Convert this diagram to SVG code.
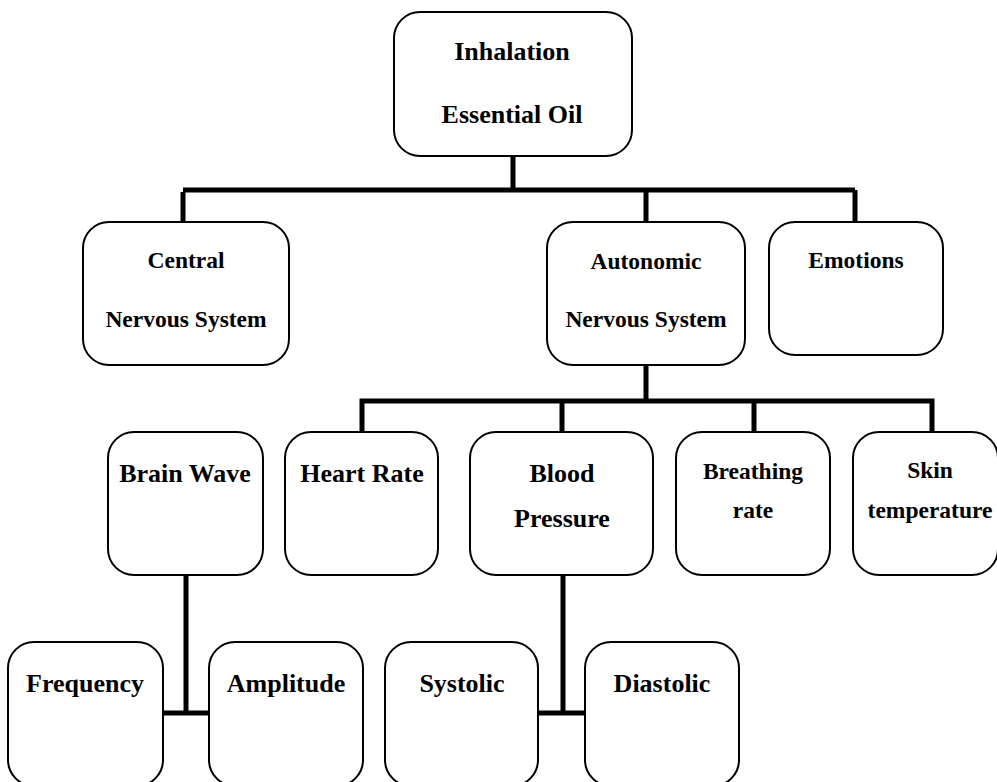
<svg xmlns="http://www.w3.org/2000/svg" width="997" height="782" viewBox="0 0 997 782">
<style>
.box{fill:#fff;stroke:#000;stroke-width:2}
.t{font-family:"Liberation Serif","Times New Roman",serif;font-weight:bold;text-anchor:middle;fill:#000}
.l{font-size:26px}
.s{font-size:23.5px}
.c{fill:none;stroke:#000;stroke-width:5}
</style>
<rect width="997" height="782" fill="#fff"/>
<g id="connectors">
<path class="c" d="M513 156V190M183 192V222M183 190H855M646 190V222M855 190V222"/>
<path class="c" d="M646 365V401M362 432V401H932V432M562 401V432M754 401V432"/>
<path class="c" d="M186 575V713M163 713H209"/>
<path class="c" d="M563 575V713M538 713H585"/>
</g>
<g id="inhalation"><rect class="box" x="394" y="12" width="238" height="144" rx="26"/><text class="t l" x="512" y="60">Inhalation</text><text class="t l" x="512" y="123">Essential Oil</text></g>
<g id="cns"><rect class="box" x="83" y="222" width="206" height="143" rx="26"/><text class="t s" x="186" y="268">Central</text><text class="t s" x="186" y="327">Nervous System</text></g>
<g id="ans"><rect class="box" x="547" y="222" width="198" height="143" rx="26"/><text class="t s" x="646" y="269">Autonomic</text><text class="t s" x="646" y="327">Nervous System</text></g>
<g id="emotions"><rect class="box" x="769" y="222" width="174" height="133" rx="26"/><text class="t s" x="856" y="268">Emotions</text></g>
<g id="brainwave"><rect class="box" x="108" y="432" width="155" height="143" rx="26"/><text class="t l" x="185" y="482">Brain Wave</text></g>
<g id="heartrate"><rect class="box" x="285" y="432" width="153" height="143" rx="26"/><text class="t l" x="362" y="482">Heart Rate</text></g>
<g id="bloodpressure"><rect class="box" x="470" y="432" width="183" height="143" rx="26"/><text class="t l" x="562" y="482">Blood</text><text class="t l" x="562" y="527">Pressure</text></g>
<g id="breathing"><rect class="box" x="676" y="432" width="154" height="143" rx="26"/><text class="t s" x="753" y="479">Breathing</text><text class="t s" x="753" y="518">rate</text></g>
<g id="skin"><rect class="box" x="853" y="432" width="145" height="143" rx="26"/><text class="t s" x="930" y="478">Skin</text><text class="t s" x="930" y="518">temperature</text></g>
<g id="frequency"><rect class="box" x="8" y="642" width="155" height="144" rx="26"/><text class="t l" x="85" y="692">Frequency</text></g>
<g id="amplitude"><rect class="box" x="209" y="642" width="154" height="144" rx="26"/><text class="t l" x="286" y="692">Amplitude</text></g>
<g id="systolic"><rect class="box" x="385" y="642" width="153" height="144" rx="26"/><text class="t l" x="462" y="692">Systolic</text></g>
<g id="diastolic"><rect class="box" x="585" y="642" width="154" height="144" rx="26"/><text class="t l" x="662" y="692">Diastolic</text></g>
</svg>
